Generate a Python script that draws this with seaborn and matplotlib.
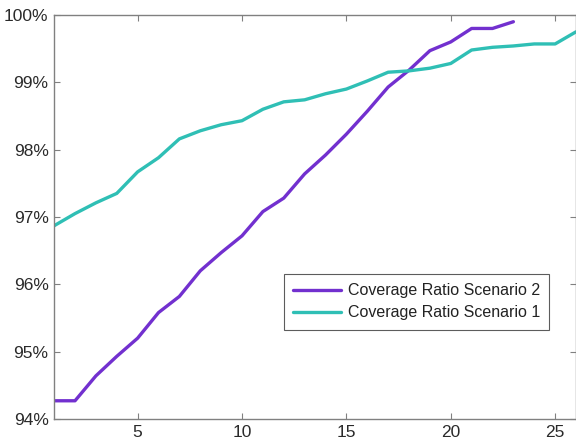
import numpy as np
import pandas as pd
import matplotlib
matplotlib.use('Agg')
import matplotlib.pyplot as plt
import seaborn as sns
from matplotlib.ticker import FuncFormatter

sns.set_style("white")
plt.rcParams['font.family'] = ['Liberation Sans', 'DejaVu Sans']

#--------------------------------------------------------------------------------------
steps = list(range(1, 27))

scenario_2 = [94.27, 94.27, 94.64, 94.93, 95.20, 95.58, 95.82, 96.20, 96.47, 96.72,
              97.08, 97.28, 97.64, 97.92, 98.23, 98.57, 98.93, 99.18, 99.47, 99.60,
              99.80, 99.80, 99.90]

scenario_1 = [96.87, 97.05, 97.21, 97.35, 97.67, 97.88, 98.16, 98.28, 98.37, 98.43,
              98.60, 98.71, 98.74, 98.83, 98.90, 99.02, 99.15, 99.17, 99.21, 99.28,
              99.48, 99.52, 99.54, 99.57, 99.57, 99.75]

labels = ['Coverage Ratio Scenario 2', 'Coverage Ratio Scenario 1']
colors = ['#7230cf', '#2fbfb5']

#--------------------------------------------------------------------------------------
def main():
        df2 = pd.DataFrame({'step': steps[:len(scenario_2)], 'ratio': scenario_2})
        df1 = pd.DataFrame({'step': steps, 'ratio': scenario_1})

        fig = plt.figure(figsize=(5.76, 4.41), dpi=100)
        ax = fig.add_axes([0.094, 0.050, 0.906, 0.916])

        sns.lineplot(data=df2, x='step', y='ratio', color=colors[0], lw=2.4, label=labels[0], ax=ax)
        sns.lineplot(data=df1, x='step', y='ratio', color=colors[1], lw=2.4, label=labels[1], ax=ax)

        ax.set_xlim(1, 26)
        ax.set_ylim(94, 100)
        ax.set_xticks([5, 10, 15, 20, 25])
        ax.set_yticks(np.arange(94, 101, 1))
        ax.yaxis.set_major_formatter(FuncFormatter(lambda v, p: '%d%%' % v))
        ax.set_xlabel('')
        ax.set_ylabel('')

        for s in ax.spines.values():
                s.set_color('#808080')
                s.set_linewidth(1.0)
        ax.tick_params(direction='in', length=4, width=0.8, color='#808080',
                       labelsize=12.5, labelcolor='#2a2a2a', top=True, right=True,
                       bottom=True, left=True, pad=4)
        ax.tick_params(axis='x', pad=4.5)

        leg = ax.legend(loc='upper left', bbox_to_anchor=(0.44, 0.36), fontsize=11.5,
                        frameon=True, fancybox=False, handlelength=3.0, borderpad=0.6,
                        labelspacing=0.45, handletextpad=0.4, borderaxespad=0)
        leg.get_frame().set_edgecolor('#333333')
        leg.get_frame().set_linewidth(0.8)
        for t in leg.get_texts():
                t.set_color('#222222')

        fig.savefig('out.png', dpi=100)

if __name__ == '__main__':
        main()
